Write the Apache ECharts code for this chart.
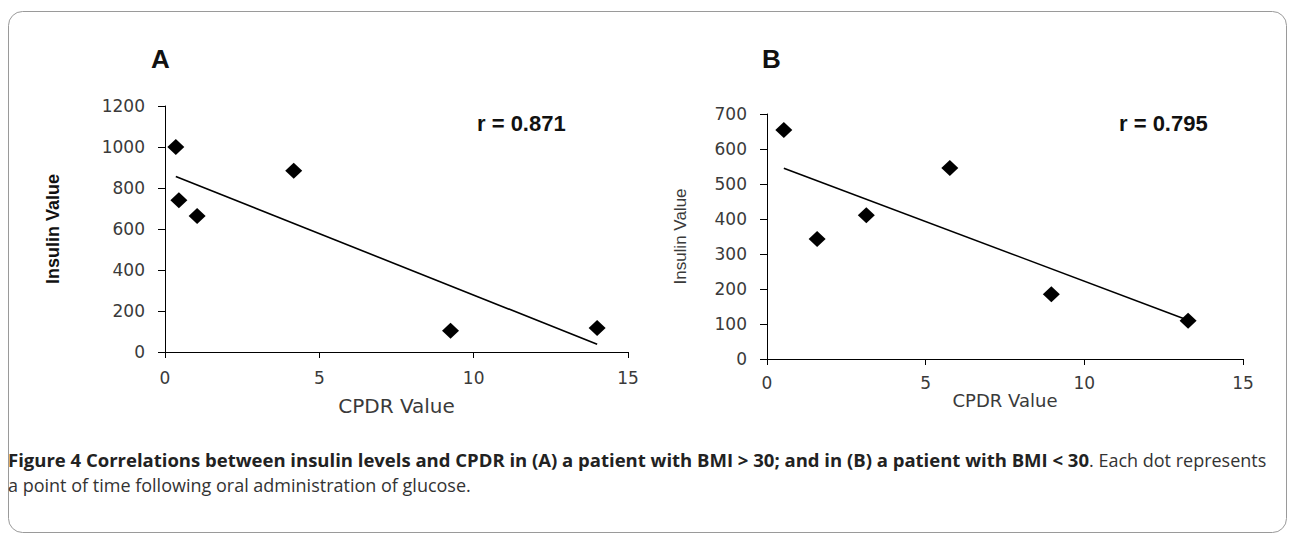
<!DOCTYPE html>
<html>
<head>
<meta charset="utf-8">
<script src="https://cdn.jsdelivr.net/npm/echarts@6/dist/echarts.min.js"></script>
<style>
html,body{margin:0;padding:0;background:#fff;}
#c{width:1291px;height:538px;}
</style>
</head>
<body>
<div id="c"></div>
<script>
// Panel A: patient with BMI > 30
const cpdrA = [0.35, 0.45, 1.04, 4.17, 9.25, 14.0];
const insulinA = [1000, 740, 663, 884, 104, 117];
const trendA = [[0.35, 856], [14.0, 38]];
const rA = 'r = 0.871';

// Panel B: patient with BMI < 30
const cpdrB = [0.53, 1.58, 3.13, 5.76, 8.96, 13.27];
const insulinB = [654, 343, 411, 546, 185, 109];
const trendB = [[0.53, 545], [13.27, 111]];
const rB = 'r = 0.795';

const xTicks = [0, 5, 10, 15];
const yTicksA = [0, 200, 400, 600, 800, 1000, 1200];
const yTicksB = [0, 100, 200, 300, 400, 500, 600, 700];

const captionBold = 'Figure 4 Correlations between insulin levels and CPDR in (A) a patient with BMI > 30; and in (B) a patient with BMI < 30';
const captionRest1 = '. Each dot represents';
const captionLine2 = 'a point of time following oral administration of glucose.';

const pairs = (xs, ys) => xs.map((x, i) => [x, ys[i]]);

const chart = echarts.init(document.getElementById('c'), null, {renderer: 'svg'});
const arial = 'Arial, "Liberation Sans", sans-serif';
const wide = '"DejaVu Sans", Verdana, sans-serif';
const capFont = '"Open Sans", "Noto Sans", sans-serif';

function xAxisCfg(grid, nameGap, nameFs, labelMargin) {
  return {
    type: 'value', gridIndex: grid, min: xTicks[0], max: xTicks[xTicks.length - 1], interval: 5,
    name: 'CPDR Value', nameLocation: 'middle', nameGap: nameGap,
    nameTextStyle: {fontFamily: wide, fontSize: nameFs, color: '#3a3a3a'},
    axisLine: {show: true, onZero: false, lineStyle: {color: '#000', width: 1}},
    axisTick: {show: true, length: 6, lineStyle: {color: '#000'}},
    axisLabel: {fontFamily: wide, fontSize: 17, color: '#3a3a3a', margin: labelMargin, formatter: v => String(v)},
    splitLine: {show: false}
  };
}
function yAxisCfg(grid, ticks, interval, nameGap, nameFs, nameBold) {
  return {
    type: 'value', gridIndex: grid, min: ticks[0], max: ticks[ticks.length - 1], interval: interval,
    name: 'Insulin Value', nameLocation: 'middle', nameGap: nameGap, nameRotate: 90,
    nameTextStyle: {fontFamily: arial, fontSize: nameFs, color: nameBold ? '#111' : '#3a3a3a', fontWeight: nameBold ? 'bold' : 'normal'},
    axisLine: {show: true, lineStyle: {color: '#000', width: 1}},
    axisTick: {show: true, length: 7, lineStyle: {color: '#000'}},
    axisLabel: {fontFamily: wide, fontSize: 17, color: '#3a3a3a', margin: 20, formatter: v => String(v)},
    splitLine: {show: false}
  };
}

const option = {
  animation: false,
  backgroundColor: '#fff',
  grid: [
    {left: 165, top: 106, width: 463, height: 246},
    {left: 767, top: 114, width: 476, height: 245}
  ],
  xAxis: [xAxisCfg(0, 44, 20, 17), xAxisCfg(1, 31, 18, 15)],
  yAxis: [yAxisCfg(0, yTicksA, 200, 103, 18, true), yAxisCfg(1, yTicksB, 100, 78, 17, false)],
  series: [
    {type: 'scatter', xAxisIndex: 0, yAxisIndex: 0, data: pairs(cpdrA, insulinA),
     symbol: 'diamond', symbolSize: [17, 16], itemStyle: {color: '#000', opacity: 1}, z: 3},
    {type: 'line', xAxisIndex: 0, yAxisIndex: 0, data: trendA, symbol: 'none',
     lineStyle: {color: '#000', width: 1.6}, z: 2},
    {type: 'scatter', xAxisIndex: 1, yAxisIndex: 1, data: pairs(cpdrB, insulinB),
     symbol: 'diamond', symbolSize: [17, 16], itemStyle: {color: '#000', opacity: 1}, z: 3},
    {type: 'line', xAxisIndex: 1, yAxisIndex: 1, data: trendB, symbol: 'none',
     lineStyle: {color: '#000', width: 1.6}, z: 2}
  ],
  graphic: [
    {type: 'rect', left: 6, top: 9, shape: {width: 1278, height: 521, r: 14},
     style: {fill: 'none', stroke: '#9a9a9a', lineWidth: 1}, silent: true, z: -1},
    {type: 'text', left: 151, top: 46, style: {text: 'A', font: 'bold 26px ' + arial, fill: '#111'}},
    {type: 'text', left: 762, top: 46, style: {text: 'B', font: 'bold 26px ' + arial, fill: '#111'}},
    {type: 'text', left: 477, top: 112, style: {text: rA, font: 'bold 22px ' + arial, fill: '#111'}},
    {type: 'text', left: 1119, top: 112, style: {text: rB, font: 'bold 22px ' + arial, fill: '#111'}},
    {type: 'text', left: 8, top: 450, style: {
      text: '{b|' + captionBold + '}{n|' + captionRest1 + '}',
      rich: {
        b: {fontFamily: capFont, fontWeight: 'bold', fontSize: 18.5, fill: '#222'},
        n: {fontFamily: capFont, fontWeight: 'normal', fontSize: 18, fill: '#333'}
      }
    }},
    {type: 'text', left: 8, top: 476, style: {text: captionLine2, font: '18px ' + capFont, fill: '#333'}}
  ]
};
chart.setOption(option);
</script>
</body>
</html>
